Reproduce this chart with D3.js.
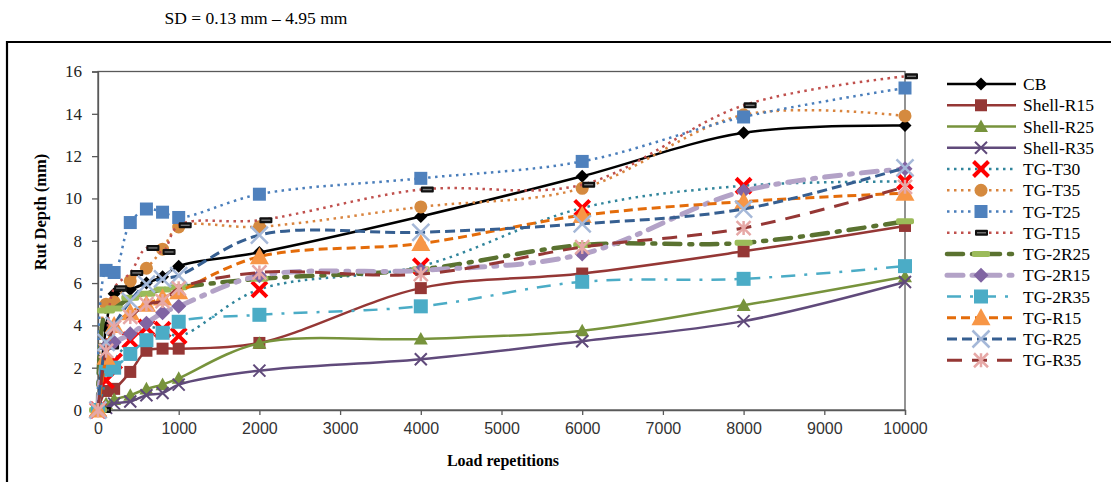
<!DOCTYPE html>
<html><head><meta charset="utf-8">
<script src="https://cdn.jsdelivr.net/npm/d3@7"></script>
<style>body{margin:0;background:#fff}svg{display:block}</style>
</head><body>
<script>
const reps = [0,100,200,400,600,800,1000,2000,4000,6000,8000,10000];
const xTicks = [0,1000,2000,3000,4000,5000,6000,7000,8000,9000,10000];
const yTicks = [0,2,4,6,8,10,12,14,16];
const seriesNames = ["CB","Shell-R15","Shell-R25","Shell-R35","TG-T30","TG-T35","TG-T25","TG-T15","TG-2R25","TG-2R15","TG-2R35","TG-R15","TG-R25","TG-R35"];
const CB        = [0,3.9,5.5,5.7,6.0,6.3,6.8,7.45,9.15,11.05,13.1,13.45];
const ShellR15  = [0,0.9,1.0,1.8,2.8,2.9,2.9,3.17,5.76,6.45,7.5,8.7];
const ShellR25  = [0,0.3,0.5,0.7,1.0,1.2,1.5,3.16,3.36,3.75,4.95,6.3];
const ShellR35  = [0,0.1,0.3,0.4,0.7,0.8,1.2,1.86,2.4,3.25,4.2,6.05];
const TGT30     = [0,1.4,2.3,3.3,3.9,3.8,3.5,5.7,6.8,9.55,10.6,10.8];
const TGT35     = [0,5.0,5.1,6.1,6.7,7.6,8.65,8.66,9.6,10.48,13.95,13.9];
const TGT25     = [0,6.6,6.5,8.86,9.5,9.35,9.1,10.2,10.95,11.75,13.85,15.22];
const TGT15     = [0,3.0,5.76,6.48,7.66,7.47,8.73,8.97,10.42,10.65,14.4,15.77];
const TG2R25    = [0,4.7,4.8,5.3,5.5,5.7,5.8,6.2,6.65,7.8,7.9,8.92];
const TG2R15    = [0,3.0,3.2,3.6,4.1,4.6,4.9,6.35,6.6,7.37,10.35,11.4];
const TG2R35    = [0,1.9,2.0,2.65,3.3,3.65,4.17,4.5,4.9,6.06,6.2,6.8];
const TGR15     = [0,2.5,4.0,4.6,5.0,5.3,5.6,7.25,7.87,9.2,9.85,10.25];
const TGR25     = [0,3.2,4.0,5.15,5.95,6.2,6.35,8.27,8.4,8.8,9.5,11.45];
const TGR35     = [0,2.8,3.9,4.4,5.0,5.15,5.75,6.5,6.42,7.7,8.6,10.55];
const seriesValues = [CB,ShellR15,ShellR25,ShellR35,TGT30,TGT35,TGT25,TGT15,TG2R25,TG2R15,TG2R35,TGR15,TGR25,TGR35];

// styles
const styles = [
 {line:"#000000", w:2.5, dash:null, m:"diamond", mc:"#000000", ms:13},
 {line:"#953735", w:2.5, dash:null, m:"square", mc:"#953735", ms:12},
 {line:"#77933c", w:2.5, dash:null, m:"triangle", mc:"#77933c", ms:14},
 {line:"#604a7b", w:2.5, dash:null, m:"x", mc:"#604a7b", ms:12, mw:2},
 {line:"#31859c", w:2.5, dash:"2.5,4.5", m:"x", mc:"#ff0000", ms:15, mw:4},
 {line:"#d9843e", w:2.5, dash:"2.5,4.5", m:"circle", mc:"#d58a3f", ms:13},
 {line:"#4a7ebb", w:2.5, dash:"2.5,4.5", m:"square", mc:"#4f81bd", ms:13},
 {line:"#c0504d", w:2.5, dash:"2.5,4.5", m:"bar", mc:"#111111", ms:13},
 {line:"#5a7230", w:4.5, dash:"16,9,3,9", m:"gbar", mc:"#9bbb59", ms:18},
 {line:"#b3a2c7", w:5, dash:"16,9,3,9", m:"diamond", mc:"#8064a2", ms:15},
 {line:"#4bacc6", w:2.5, dash:"14,9,3,9", m:"square", mc:"#4bacc6", ms:14},
 {line:"#e46c0a", w:3, dash:"9,5", m:"triangle", mc:"#f79646", ms:19},
 {line:"#365f91", w:3, dash:"10,5", m:"x", mc:"#a5b8d8", ms:17, mw:2.5},
 {line:"#953735", w:3, dash:"15,10", m:"asterisk", mc:"#e6a8a6", ms:14, mw:2.5}
];

const W=1111,H=482;
const svg=d3.select("body").append("svg").attr("width",W).attr("height",H);
const L=98,R=905,T=71.5,B=410;
const x=d3.scaleLinear().domain([0,10000]).range([L,R]);
const y=d3.scaleLinear().domain([0,16]).range([B,T]);

// outer frame
svg.append("path").attr("d",`M7,482 V42 H1111`).attr("fill","none").attr("stroke","#000").attr("stroke-width",2.2);

svg.append("text").attr("x",256).attr("y",24).attr("text-anchor","middle")
 .attr("font-family","Liberation Serif").attr("font-size",17.5).attr("fill","#000").text("SD = 0.13 mm \u2013 4.95 mm");

// plot border
svg.append("rect").attr("x",L).attr("y",T).attr("width",R-L).attr("height",B-T).attr("fill","none").attr("stroke","#595959").attr("stroke-width",1.3);

const gx=svg.append("g").attr("transform",`translate(0,${B})`)
 .call(d3.axisBottom(x).tickValues(xTicks).tickSize(5).tickPadding(8).tickFormat(d3.format("d")));
gx.select(".domain").attr("stroke","#595959").attr("stroke-width",1.3);
gx.selectAll(".tick line").attr("stroke","#595959").attr("stroke-width",1.3);
gx.selectAll("text").attr("font-family","Liberation Sans").attr("font-size",16).attr("fill","#333");

const gy=svg.append("g").attr("transform",`translate(${L},0)`)
 .call(d3.axisLeft(y).tickValues(yTicks).tickSize(6).tickPadding(10));
gy.select(".domain").attr("stroke","#595959").attr("stroke-width",1.3);
gy.selectAll(".tick line").attr("stroke","#595959").attr("stroke-width",1.3);
gy.selectAll("text").attr("font-family","Liberation Serif").attr("font-size",17).attr("fill","#222");

svg.append("text").attr("x",503).attr("y",466).attr("text-anchor","middle")
 .attr("font-family","Liberation Serif").attr("font-weight","bold").attr("font-size",16).text("Load repetitions");
svg.append("text").attr("transform","translate(46,212) rotate(-90)").attr("text-anchor","middle")
 .attr("font-family","Liberation Serif").attr("font-weight","bold").attr("font-size",16.5).text("Rut Depth (mm)");

function drawMarker(g,s,cx,cy){
  const r=s.ms/2;
  if(s.m==="diamond"){
    g.append("path").attr("d",`M${cx},${cy-r}L${cx+r},${cy}L${cx},${cy+r}L${cx-r},${cy}Z`).attr("fill",s.mc);
  } else if(s.m==="square"){
    g.append("rect").attr("x",cx-r).attr("y",cy-r).attr("width",s.ms).attr("height",s.ms).attr("fill",s.mc);
  } else if(s.m==="triangle"){
    g.append("path").attr("d",`M${cx},${cy-r}L${cx+r},${cy+r*0.8}L${cx-r},${cy+r*0.8}Z`).attr("fill",s.mc);
  } else if(s.m==="circle"){
    g.append("circle").attr("cx",cx).attr("cy",cy).attr("r",r).attr("fill",s.mc);
  } else if(s.m==="x"){
    g.append("path").attr("d",`M${cx-r},${cy-r}L${cx+r},${cy+r}M${cx-r},${cy+r}L${cx+r},${cy-r}`).attr("stroke",s.mc).attr("stroke-width",s.mw||2);
  } else if(s.m==="asterisk"){
    g.append("path").attr("d",`M${cx-r},${cy-r}L${cx+r},${cy+r}M${cx-r},${cy+r}L${cx+r},${cy-r}M${cx},${cy-r}L${cx},${cy+r}`).attr("stroke",s.mc).attr("stroke-width",s.mw||2);
  } else if(s.m==="bar"){
    g.append("rect").attr("x",cx).attr("y",cy-3).attr("width",s.ms).attr("height",6).attr("rx",1).attr("fill",s.mc);
    g.append("rect").attr("x",cx+2).attr("y",cy-0.7).attr("width",s.ms-4).attr("height",1.4).attr("fill","#777");
  } else if(s.m==="gbar"){
    g.append("rect").attr("x",cx-r).attr("y",cy-3).attr("width",s.ms).attr("height",6).attr("rx",2).attr("fill",s.mc);
  }
}

const line=d3.line().x((d,i)=>x(reps[i])).y(d=>y(d)).curve(d3.curveCatmullRom.alpha(0.5));
const plot=svg.append("g");
seriesValues.forEach((vals,k)=>{
  const s=styles[k];
  const g=plot.append("g");
  g.append("path").datum(vals).attr("d",line).attr("fill","none").attr("stroke",s.line)
   .attr("stroke-width",s.w).attr("stroke-dasharray",s.dash).attr("stroke-linecap",(k===8||k===9)?"round":"butt");
  vals.forEach((v,i)=>drawMarker(g,s,x(reps[i]),y(v)));
});

// legend
const lg=svg.append("g");
seriesNames.forEach((n,k)=>{
  const s=styles[k];
  const yy=84+k*21.25;
  lg.append("line").attr("x1",947).attr("x2",1016).attr("y1",yy).attr("y2",yy).attr("stroke",s.line)
   .attr("stroke-width",s.w).attr("stroke-dasharray",s.dash).attr("stroke-linecap",(k===8||k===9)?"round":"butt");
  drawMarker(lg,s,s.m==="bar"?975:981,yy);
  lg.append("text").attr("x",1023).attr("y",yy).attr("dy","0.35em").attr("font-family","Liberation Serif")
   .attr("font-size",17.5).attr("fill","#000").text(n);
});
</script>
</body></html>
